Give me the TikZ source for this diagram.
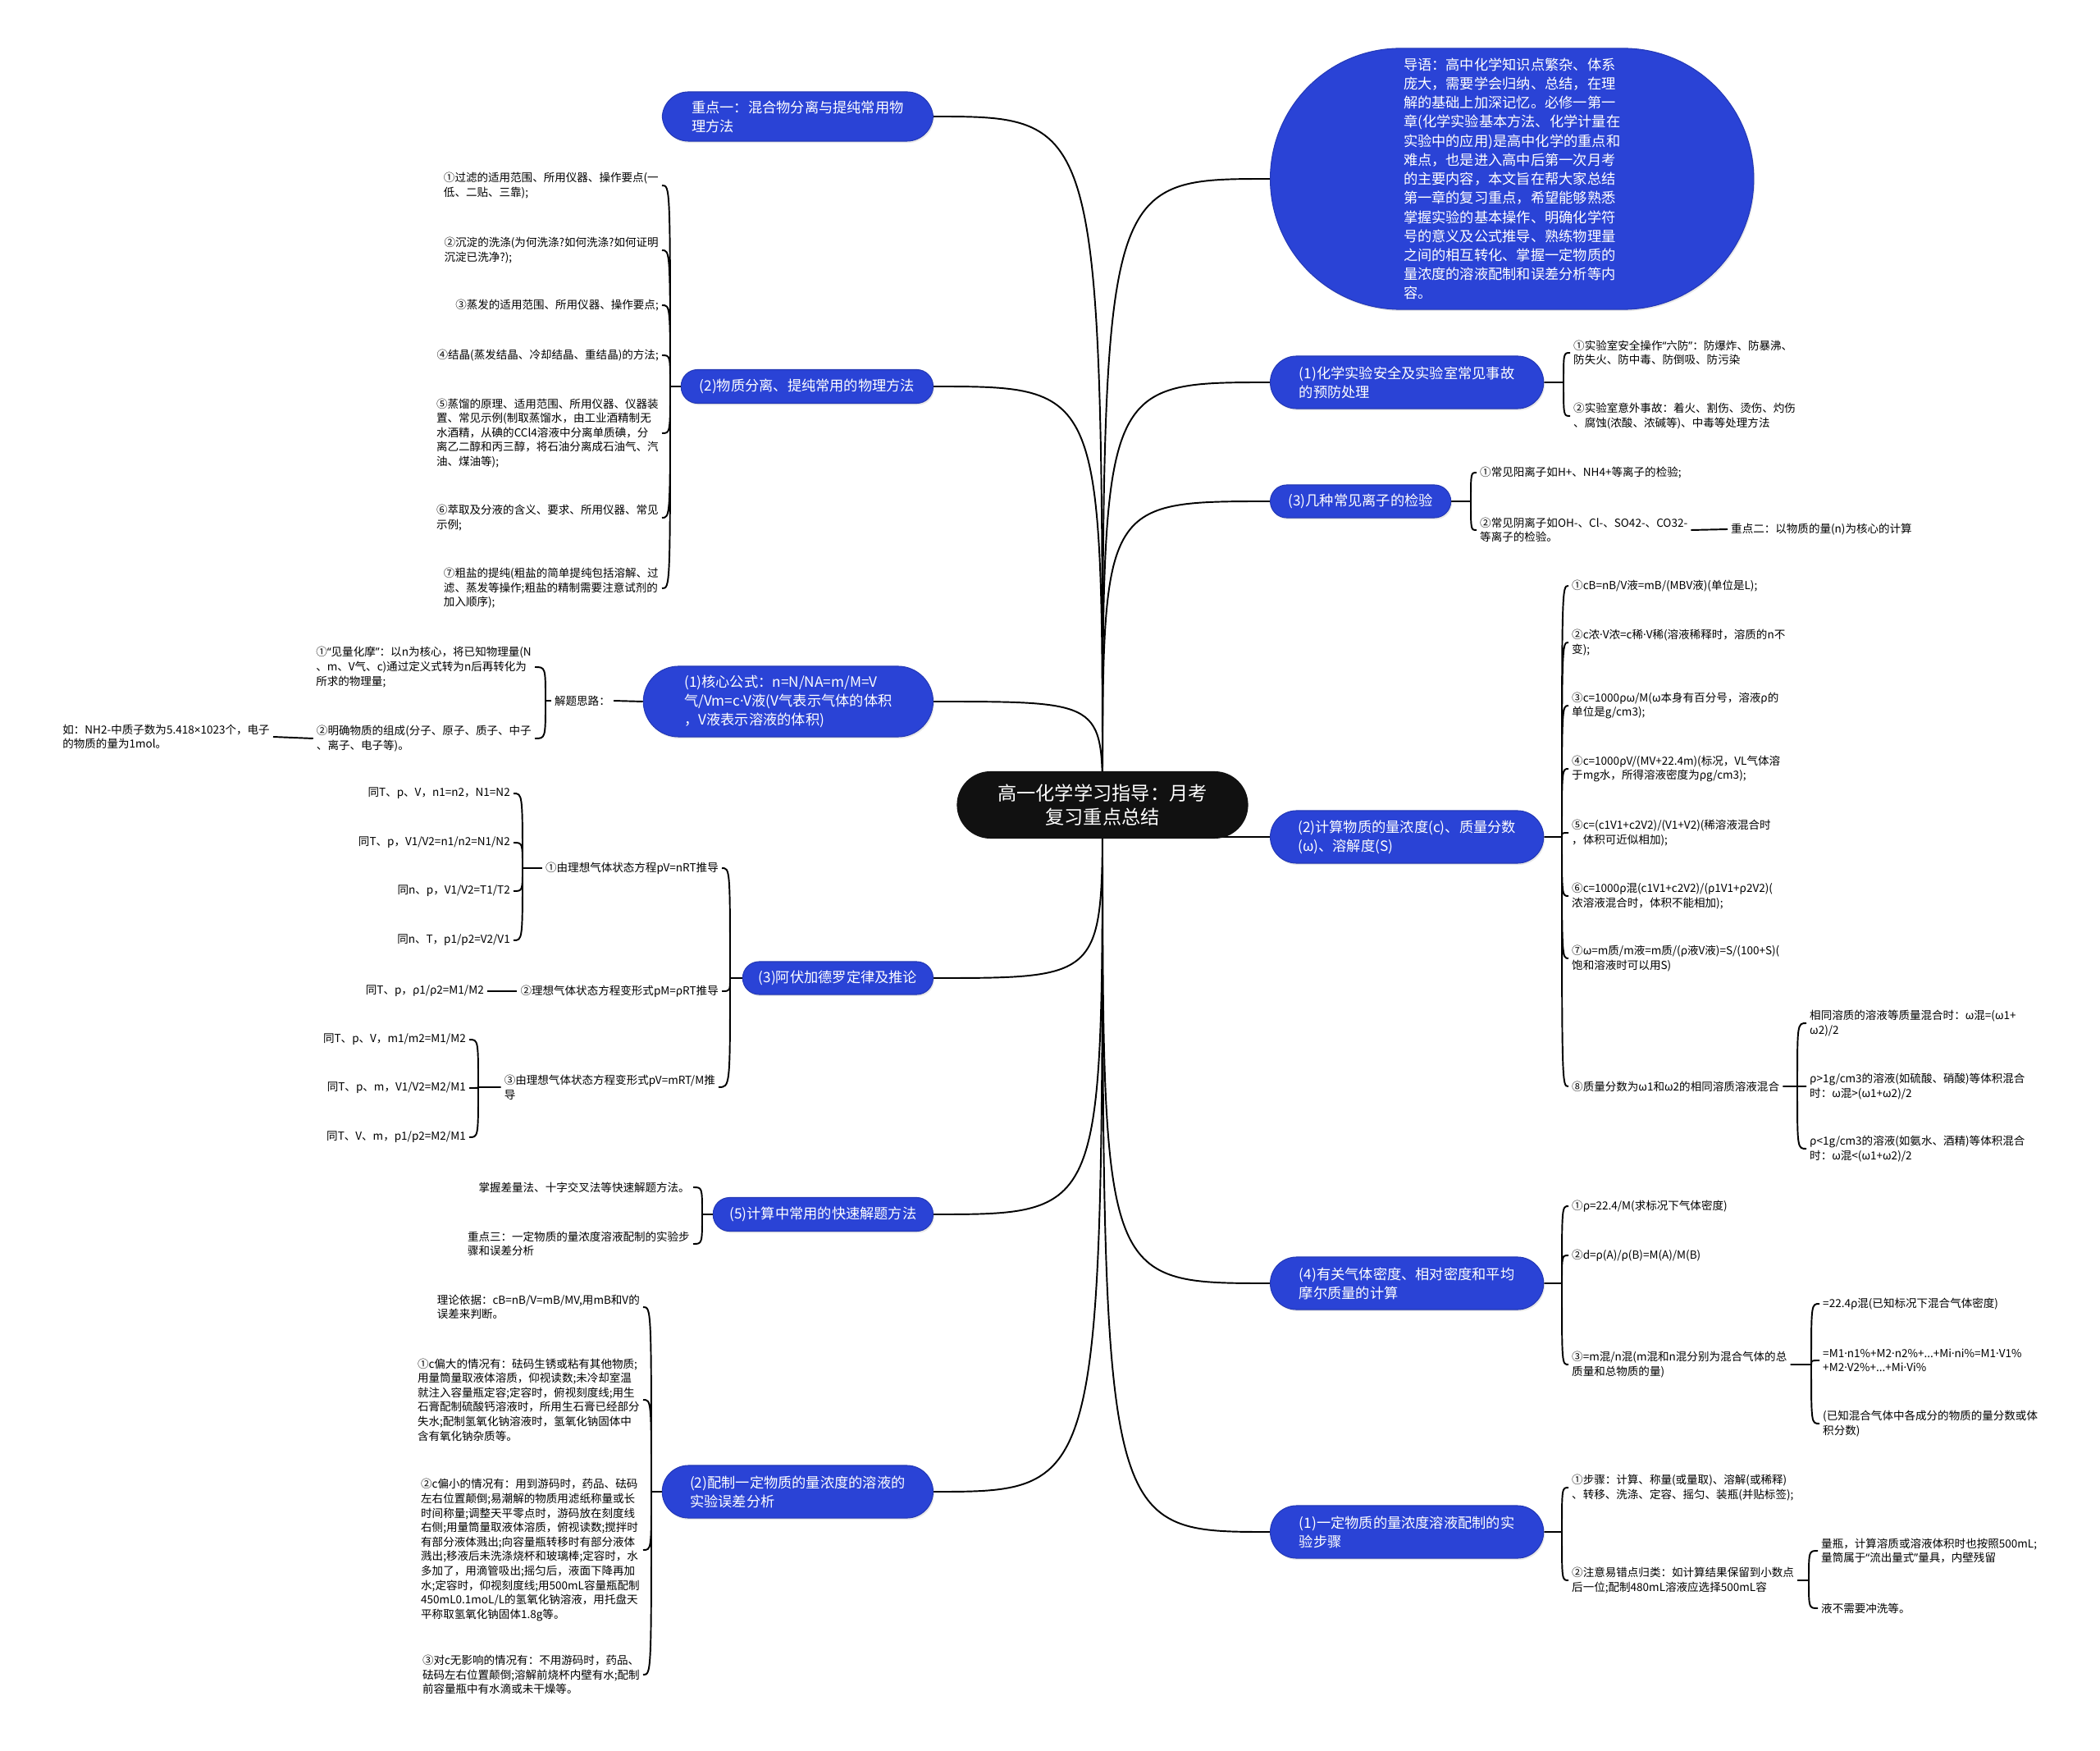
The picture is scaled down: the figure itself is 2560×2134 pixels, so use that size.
\documentclass[tikz,border=0pt]{standalone}
\usepackage{fontspec}
\setmainfont{Noto Sans CJK SC}
\newfontfamily\latinfont{Noto Sans}
\usepackage{tikz}
\usetikzlibrary{shadows, shapes.misc, positioning, calc, backgrounds}

\newcommand{\leaffont}{\fontsize{3.85pt}{5pt}\selectfont}
\newcommand{\topicfont}{\fontsize{4.9pt}{6.5pt}\selectfont}
\newcommand{\introfont}{\fontsize{4.9pt}{6.6pt}\selectfont}
\newcommand{\rootfont}{\fontsize{6.6pt}{8.3pt}\selectfont}
\newcommand{\mdt}{{\latinfont ·}}
\newcommand{\tms}{{\latinfont ×}}
\newcommand{\oq}{{\latinfont “}}
\newcommand{\cq}{{\latinfont ”}}

\begin{document}
\begin{tikzpicture}[x=0.01cm, y=-0.01cm,
  root/.style={fill=rootblack, text=white, font=\rootfont, align=center, rounded corners=0.41cm, minimum width=3.55cm, minimum height=0.82cm, inner sep=0pt},
  topic/.style={fill=topicblue, draw=topicblue!85!black, line width=0.3pt, text=white, font=\topicfont, align=left, inner sep=0pt, drop shadow={opacity=0.18, shadow xshift=0.4pt, shadow yshift=-0.6pt}},
  oneline/.style={topic, minimum height=0.40cm, rounded corners=0.2cm},
  twoline/.style={topic, minimum height=0.64cm, rounded corners=0.32cm},
  leafl/.style={font=\leaffont, align=left, inner sep=1pt, anchor=east},
  leafr/.style={font=\leaffont, align=left, inner sep=1pt, anchor=west},
  link/.style={line width=0.55pt, black}]
% --- CORES, FUNDO E LIMITES ---
\definecolor{topicblue}{HTML}{2A43D6}
\definecolor{rootblack}{HTML}{111111}
\useasboundingbox (0,0) rectangle (2560,2134);

% LAYER 1: centro
\node[root] (root) at (1344,981) {高一化学学习指导：月考\\复习重点总结};

% LAYER 2: ramos da direita
\node[topic, font=\introfont, rounded corners=1.59cm, minimum width=5.89cm, minimum height=3.18cm, anchor=west] (intro) at (1548,218) {导语：高中化学知识点繁杂、体系\\庞大，需要学会归纳、总结，在理\\解的基础上加深记忆。必修一第一\\章(化学实验基本方法、化学计量在\\实验中的应用)是高中化学的重点和\\难点，也是进入高中后第一次月考\\的主要内容，本文旨在帮大家总结\\第一章的复习重点，希望能够熟悉\\掌握实验的基本操作、明确化学符\\号的意义及公式推导、熟练物理量\\之间的相互转化、掌握一定物质的\\量浓度的溶液配制和误差分析等内\\容。};
\node[twoline, minimum width=3.33cm, anchor=west] (safe) at (1548,466) {(1)化学实验安全及实验室常见事故\\的预防处理};
\node[oneline, minimum width=2.20cm, anchor=west] (ion) at (1548,611) {(3)几种常见离子的检验};
\node[twoline, minimum width=3.33cm, anchor=west] (conc) at (1548,1020) {(2)计算物质的量浓度(c)、质量分数\\(ω)、溶解度(S)};
\node[twoline, minimum width=3.33cm, anchor=west] (gas) at (1548,1564) {(4)有关气体密度、相对密度和平均\\摩尔质量的计算};
\node[twoline, minimum width=3.33cm, anchor=west] (prepstep) at (1548,1867) {(1)一定物质的量浓度溶液配制的实\\验步骤};

% LAYER 3: ramos da esquerda
\node[twoline, minimum width=3.30cm, minimum height=0.60cm, anchor=east] (key1) at (1138,142) {重点一：混合物分离与提纯常用物\\理方法};
\node[oneline, minimum width=3.07cm, minimum height=0.41cm, anchor=east] (sep) at (1138,471) {(2)物质分离、提纯常用的物理方法};
\node[topic, rounded corners=0.43cm, minimum width=3.53cm, minimum height=0.86cm, anchor=east] (core) at (1138,855) {(1)核心公式：n=N/NA=m/M=V\\气/Vm=c\mdt V液(V气表示气体的体积\\，V液表示溶液的体积)};
\node[oneline, minimum width=2.32cm, anchor=east] (avog) at (1138,1192) {(3)阿伏加德罗定律及推论};
\node[oneline, minimum width=2.68cm, minimum height=0.41cm, anchor=east] (fast) at (1138,1480) {(5)计算中常用的快速解题方法};
\node[twoline, minimum width=3.30cm, anchor=east] (err) at (1138,1818) {(2)配制一定物质的量浓度的溶液的\\实验误差分析};

% LAYER 4: folhas da direita
\node[leafr] (sf1) at (1914,430) {①实验室安全操作\oq 六防\cq ：防爆炸、防暴沸、\\防失火、防中毒、防倒吸、防污染};
\node[leafr] (sf2) at (1914,507) {②实验室意外事故：着火、割伤、烫伤、灼伤\\、腐蚀(浓酸、浓碱等)、中毒等处理方法};
\node[leafr] (io1) at (1800,576) {①常见阳离子如H+、NH4+等离子的检验;};
\node[leafr] (io2) at (1800,646) {②常见阴离子如OH-、Cl-、SO42-、CO32-\\等离子的检验。};
\node[leafr] (key2) at (2106,645) {重点二：以物质的量(n)为核心的计算};
\node[leafr] (c1) at (1912,714) {①cB=nB/V液=mB/(MBV液)(单位是L);};
\node[leafr] (c2) at (1912,783) {②c浓\mdt V浓=c稀\mdt V稀(溶液稀释时，溶质的n不\\变);};
\node[leafr] (c3) at (1912,860) {③c=1000ρω/M(ω本身有百分号，溶液ρ的\\单位是g/cm3);};
\node[leafr] (c4) at (1912,937) {④c=1000ρV/(MV+22.4m)(标况，VL气体溶\\于mg水，所得溶液密度为ρg/cm3);};
\node[leafr] (c5) at (1912,1015) {⑤c=(c1V1+c2V2)/(V1+V2)(稀溶液混合时\\，体积可近似相加);};
\node[leafr] (c6) at (1912,1092) {⑥c=1000ρ混(c1V1+c2V2)/(ρ1V1+ρ2V2)(\\浓溶液混合时，体积不能相加);};
\node[leafr] (c7) at (1912,1168) {⑦ω=m质/m液=m质/(ρ液V液)=S/(100+S)(\\饱和溶液时可以用S)};
\node[leafr] (c8) at (1912,1324) {⑧质量分数为ω1和ω2的相同溶质溶液混合};
\node[leafr] (c8a) at (2202,1247) {相同溶质的溶液等质量混合时：ω混=(ω1+\\ω2)/2};
\node[leafr] (c8b) at (2202,1324) {ρ>1g/cm3的溶液(如硫酸、硝酸)等体积混合\\时：ω混>(ω1+ω2)/2};
\node[leafr] (c8c) at (2202,1400) {ρ<1g/cm3的溶液(如氨水、酒精)等体积混合\\时：ω混<(ω1+ω2)/2};
\node[leafr] (g1) at (1912,1470) {①ρ=22.4/M(求标况下气体密度)};
\node[leafr] (g2) at (1912,1530) {②d=ρ(A)/ρ(B)=M(A)/M(B)};
\node[leafr] (g3) at (1912,1663) {③=m混/n混(m混和n混分别为混合气体的总\\质量和总物质的量)};
\node[leafr] (g3a) at (2218,1589) {=22.4ρ混(已知标况下混合气体密度)};
\node[leafr] (g3b) at (2218,1658) {=M1\mdt n1\%+M2\mdt n2\%+...+Mi\mdt ni\%=M1\mdt V1\%\\+M2\mdt V2\%+...+Mi\mdt Vi\%};
\node[leafr] (g3c) at (2218,1735) {(已知混合气体中各成分的物质的量分数或体\\积分数)};
\node[leafr] (p1) at (1912,1813) {①步骤：计算、称量(或量取)、溶解(或稀释)\\、转移、洗涤、定容、摇匀、装瓶(并贴标签);};
\node[leafr] (p2) at (1912,1926) {②注意易错点归类：如计算结果保留到小数点\\后一位;配制480mL溶液应选择500mL容};
\node[leafr] (p2a) at (2216,1890) {量瓶，计算溶质或溶液体积时也按照500mL;\\量筒属于\oq 流出量式\cq 量具，内壁残留};
\node[leafr] (p2b) at (2216,1960) {液不需要冲洗等。};

% LAYER 5: folhas da esquerda
\node[leafl] (sp1) at (807,226) {①过滤的适用范围、所用仪器、操作要点(一\\低、二贴、三靠);};
\node[leafl] (sp2) at (807,305) {②沉淀的洗涤(为何洗涤?如何洗涤?如何证明\\沉淀已洗净?);};
\node[leafl] (sp3) at (807,372) {③蒸发的适用范围、所用仪器、操作要点;};
\node[leafl] (sp4) at (807,433) {④结晶(蒸发结晶、冷却结晶、重结晶)的方法;};
\node[leafl] (sp5) at (807,528) {⑤蒸馏的原理、适用范围、所用仪器、仪器装\\置、常见示例(制取蒸馏水，由工业酒精制无\\水酒精，从碘的CCl4溶液中分离单质碘，分\\离乙二醇和丙三醇，将石油分离成石油气、汽\\油、煤油等);};
\node[leafl] (sp6) at (807,631) {⑥萃取及分液的含义、要求、所用仪器、常见\\示例;};
\node[leafl] (sp7) at (807,717) {⑦粗盐的提纯(粗盐的简单提纯包括溶解、过\\滤、蒸发等操作;粗盐的精制需要注意试剂的\\加入顺序);};
\node[leafl] (think) at (748,854) {解题思路：};
\node[leafl] (think1) at (652,813) {①\oq 见量化摩\cq ：以n为核心，将已知物理量(N\\、m、V气、c)通过定义式转为n后再转化为\\所求的物理量;};
\node[leafl] (think2) at (652,900) {②明确物质的组成(分子、原子、质子、中子\\、离子、电子等)。};
\node[leafl] (ex) at (333,898) {如：NH2-中质子数为5.418\tms 1023个，电子\\的物质的量为1mol。};
\node[leafl] (av1) at (880,1058) {①由理想气体状态方程pV=nRT推导};
\node[leafl] (av2) at (880,1208) {②理想气体状态方程变形式pM=ρRT推导};
\node[leafl] (av3) at (876,1325) {③由理想气体状态方程变形式pV=mRT/M推\\导};
\node[leafl] (av1a) at (626,967) {同T、p、V，n1=n2，N1=N2};
\node[leafl] (av1b) at (626,1027) {同T、p，V1/V2=n1/n2=N1/N2};
\node[leafl] (av1c) at (626,1086) {同n、p，V1/V2=T1/T2};
\node[leafl] (av1d) at (626,1146) {同n、T，p1/p2=V2/V1};
\node[leafl] (av2a) at (594,1208) {同T、p，ρ1/ρ2=M1/M2};
\node[leafl] (av3a) at (572,1267) {同T、p、V，m1/m2=M1/M2};
\node[leafl] (av3b) at (572,1326) {同T、p、m，V1/V2=M2/M1};
\node[leafl] (av3c) at (572,1386) {同T、V、m，p1/p2=M2/M1};
\node[leafl] (fs1) at (845,1447) {掌握差量法、十字交叉法等快速解题方法。};
\node[leafl] (fs2) at (845,1516) {重点三：一定物质的量浓度溶液配制的实验步\\骤和误差分析};
\node[leafl] (er0) at (784,1593) {理论依据：cB=nB/V=mB/MV,用mB和V的\\误差来判断。};
\node[leafl] (er1) at (784,1706) {①c偏大的情况有：砝码生锈或粘有其他物质;\\用量筒量取液体溶质，仰视读数;未冷却室温\\就注入容量瓶定容;定容时，俯视刻度线;用生\\石膏配制硫酸钙溶液时，所用生石膏已经部分\\失水;配制氢氧化钠溶液时，氢氧化钠固体中\\含有氧化钠杂质等。};
\node[leafl] (er2) at (784,1889) {②c偏小的情况有：用到游码时，药品、砝码\\左右位置颠倒;易潮解的物质用滤纸称量或长\\时间称量;调整天平零点时，游码放在刻度线\\右侧;用量筒量取液体溶质，俯视读数;搅拌时\\有部分液体溅出;向容量瓶转移时有部分液体\\溅出;移液后未洗涤烧杯和玻璃棒;定容时，水\\多加了，用滴管吸出;摇匀后，液面下降再加\\水;定容时，仰视刻度线;用500mL容量瓶配制\\450mL0.1moL/L的氢氧化钠溶液，用托盘天\\平称取氢氧化钠固体1.8g等。};
\node[leafl] (er3) at (784,2041) {③对c无影响的情况有：不用游码时，药品、\\砝码左右位置颠倒;溶解前烧杯内壁有水;配制\\前容量瓶中有水滴或未干燥等。};

% LAYER 6: pontos das chaves
\coordinate (sSafe) at (1906,466);
\coordinate (sIon) at (1793,611);
\coordinate (sConc) at (1904,1020);
\coordinate (sC8) at (2191,1324);
\coordinate (sGas) at (1904,1564);
\coordinate (sG3) at (2208,1663);
\coordinate (sPrep) at (1904,1867);
\coordinate (sP2) at (2205,1926);
\coordinate (sSep) at (817,471);
\coordinate (sThink) at (665,854);
\coordinate (sAvog) at (890,1192);
\coordinate (sAv1) at (637,1058);
\coordinate (sAv3) at (583,1325);
\coordinate (sFast) at (856,1480);
\coordinate (sErr) at (794,1818);

% LAYER 7: conectores (atras dos nos)
\begin{pgfonlayer}{background}
% centro -> ramos
\draw[link] (root.center) .. controls (root.center |- intro.west) .. (intro.west);
\draw[link] (root.center) .. controls (root.center |- safe.west) .. (safe.west);
\draw[link] (root.center) .. controls (root.center |- ion.west) .. (ion.west);
\draw[link] (root.center) .. controls (root.center |- conc.west) .. (conc.west);
\draw[link] (root.center) .. controls (root.center |- gas.west) .. (gas.west);
\draw[link] (root.center) .. controls (root.center |- prepstep.west) .. (prepstep.west);
\draw[link] (root.center) .. controls (root.center |- key1.east) .. (key1.east);
\draw[link] (root.center) .. controls (root.center |- sep.east) .. (sep.east);
\draw[link] (root.center) .. controls (root.center |- core.east) .. (core.east);
\draw[link] (root.center) .. controls (root.center |- avog.east) .. (avog.east);
\draw[link] (root.center) .. controls (root.center |- fast.east) .. (fast.east);
\draw[link] (root.center) .. controls (root.center |- err.east) .. (err.east);

% chaves da direita
\draw[link] (safe.east) -- (sSafe) (sSafe) .. controls (sSafe |- sf1.west) .. (sf1.west) (sSafe) .. controls (sSafe |- sf2.west) .. (sf2.west);
\draw[link] (ion.east) -- (sIon) (sIon) .. controls (sIon |- io1.west) .. (io1.west) (sIon) .. controls (sIon |- io2.west) .. (io2.west);
\draw[link] (io2.east) -- (key2.west);
\draw[link] (conc.east) -- (sConc)
  (sConc) .. controls (sConc |- c1.west) .. (c1.west) (sConc) .. controls (sConc |- c2.west) .. (c2.west)
  (sConc) .. controls (sConc |- c3.west) .. (c3.west) (sConc) .. controls (sConc |- c4.west) .. (c4.west)
  (sConc) .. controls (sConc |- c5.west) .. (c5.west) (sConc) .. controls (sConc |- c6.west) .. (c6.west)
  (sConc) .. controls (sConc |- c7.west) .. (c7.west) (sConc) .. controls (sConc |- c8.west) .. (c8.west);
\draw[link] (c8.east) -- (sC8) (sC8) .. controls (sC8 |- c8a.west) .. (c8a.west) (sC8) -- (c8b.west) (sC8) .. controls (sC8 |- c8c.west) .. (c8c.west);
\draw[link] (gas.east) -- (sGas) (sGas) .. controls (sGas |- g1.west) .. (g1.west) (sGas) .. controls (sGas |- g2.west) .. (g2.west) (sGas) .. controls (sGas |- g3.west) .. (g3.west);
\draw[link] (g3.east) -- (sG3) (sG3) .. controls (sG3 |- g3a.west) .. (g3a.west) (sG3) .. controls (sG3 |- g3b.west) .. (g3b.west) (sG3) .. controls (sG3 |- g3c.west) .. (g3c.west);
\draw[link] (prepstep.east) -- (sPrep) (sPrep) .. controls (sPrep |- p1.west) .. (p1.west) (sPrep) .. controls (sPrep |- p2.west) .. (p2.west);
\draw[link] (p2.east) -- (sP2) (sP2) .. controls (sP2 |- p2a.west) .. (p2a.west) (sP2) .. controls (sP2 |- p2b.west) .. (p2b.west);

% chaves da esquerda
\draw[link] (sep.west) -- (sSep)
  (sSep) .. controls (sSep |- sp1.east) .. (sp1.east) (sSep) .. controls (sSep |- sp2.east) .. (sp2.east)
  (sSep) .. controls (sSep |- sp3.east) .. (sp3.east) (sSep) .. controls (sSep |- sp4.east) .. (sp4.east)
  (sSep) .. controls (sSep |- sp5.east) .. (sp5.east) (sSep) .. controls (sSep |- sp6.east) .. (sp6.east)
  (sSep) .. controls (sSep |- sp7.east) .. (sp7.east);
\draw[link] (core.west) -- (think.east);
\draw[link] (think.west) -- (sThink) (sThink) .. controls (sThink |- think1.east) .. (think1.east) (sThink) .. controls (sThink |- think2.east) .. (think2.east);
\draw[link] (think2.west) -- (ex.east);
\draw[link] (avog.west) -- (sAvog) (sAvog) .. controls (sAvog |- av1.east) .. (av1.east) (sAvog) .. controls (sAvog |- av2.east) .. (av2.east) (sAvog) .. controls (sAvog |- av3.east) .. (av3.east);
\draw[link] (av1.west) -- (sAv1)
  (sAv1) .. controls (sAv1 |- av1a.east) .. (av1a.east) (sAv1) .. controls (sAv1 |- av1b.east) .. (av1b.east)
  (sAv1) .. controls (sAv1 |- av1c.east) .. (av1c.east) (sAv1) .. controls (sAv1 |- av1d.east) .. (av1d.east);
\draw[link] (av2.west) -- (av2a.east);
\draw[link] (av3.west) -- (sAv3) (sAv3) .. controls (sAv3 |- av3a.east) .. (av3a.east) (sAv3) .. controls (sAv3 |- av3b.east) .. (av3b.east) (sAv3) .. controls (sAv3 |- av3c.east) .. (av3c.east);
\draw[link] (fast.west) -- (sFast) (sFast) .. controls (sFast |- fs1.east) .. (fs1.east) (sFast) .. controls (sFast |- fs2.east) .. (fs2.east);
\draw[link] (err.west) -- (sErr)
  (sErr) .. controls (sErr |- er0.east) .. (er0.east) (sErr) .. controls (sErr |- er1.east) .. (er1.east)
  (sErr) .. controls (sErr |- er2.east) .. (er2.east) (sErr) .. controls (sErr |- er3.east) .. (er3.east);
\end{pgfonlayer}
\end{tikzpicture}
\end{document}
